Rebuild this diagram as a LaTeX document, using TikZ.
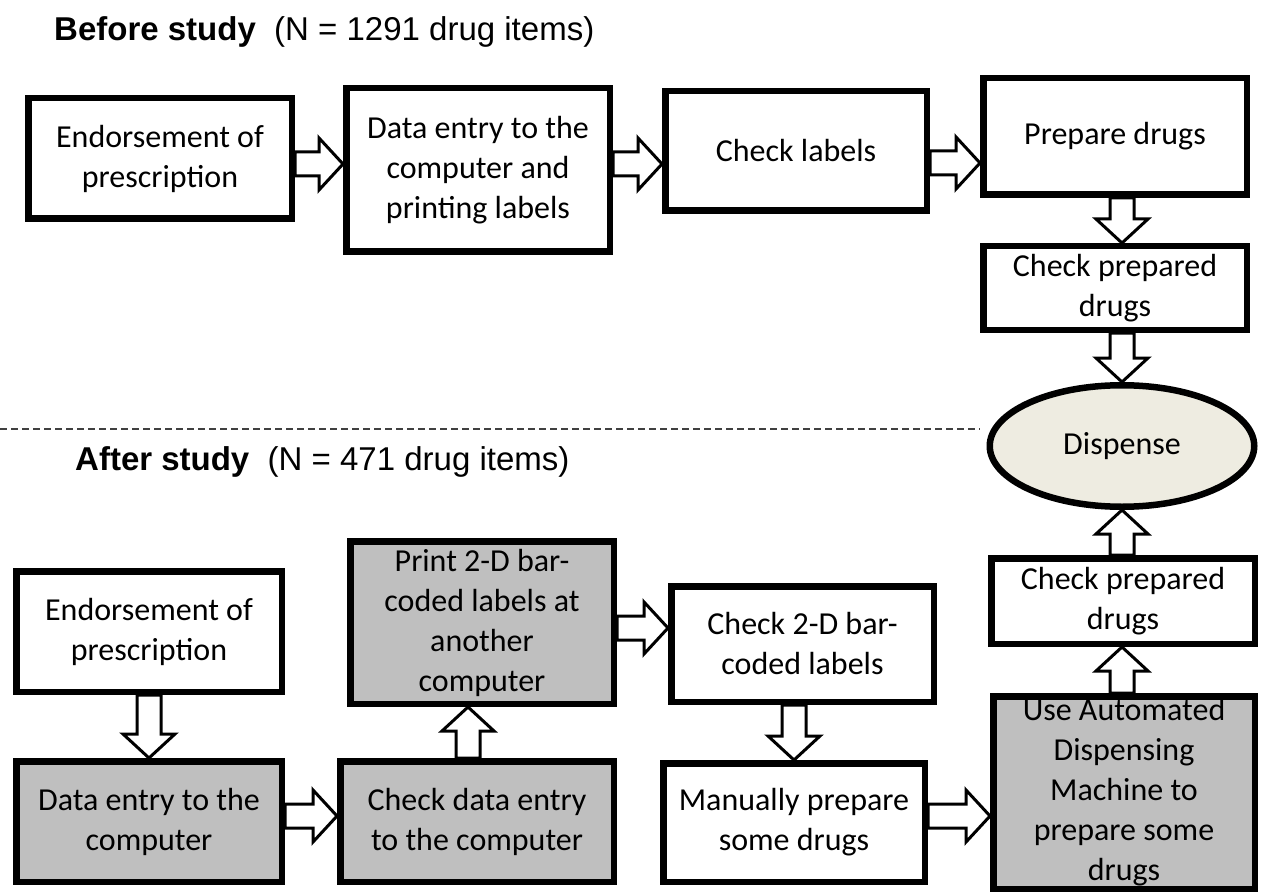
\documentclass[tikz,border=0pt]{standalone}
\usepackage{fontspec}
\setmainfont{Carlito}
\newfontfamily\titlefont{Liberation Sans}
\usepackage{xcolor}
\usepackage{tikz}
\usetikzlibrary{calc,shapes.geometric}

\definecolor{shade}{RGB}{191,191,191}
\definecolor{cream}{RGB}{238,236,225}

\tikzset{
  box/.style={draw,line width=6.5pt,fill=white,inner sep=0pt,align=center,
    font=\fontsize{32}{40}\selectfont},
  greybox/.style={box,fill=shade},
  title/.style={anchor=base west,inner sep=0pt,font=\titlefont\fontsize{33}{40}\selectfont},
  fat/.style={draw,line width=3pt,fill=white,
    to path={let \p1=(\tikztostart),\p2=(\tikztotarget),
      \n1={atan2(\y2-\y1,\x2-\x1)},
      \n2={veclen(\x2-\x1,\y2-\y1)-24} in
      ($(\p1)+(\n1+90:12pt)$) -- ++(\n1:\n2) -- ++(\n1+90:14pt)
      -- (\p2) -- ($(\p1)+(\n1:\n2)+(\n1-90:26pt)$) -- ++(\n1+90:14pt)
      -- ($(\p1)+(\n1-90:12pt)$) -- cycle}},
  divider/.style={line width=1.3pt,black!75,dash pattern=on 7pt off 4pt}
}

\begin{document}
\begin{tikzpicture}[x=1pt,y=-1pt]
\useasboundingbox (0,0) rectangle (1263,893);

\node (before) at (54,41) [title] {\textbf{Before study}\ \ (N = 1291 drug items)};
\node (1) at (160,158.5) [box,minimum width=263.5pt,minimum height=120.5pt] {Endorsement of\\prescription};
\node (2) at (478,170) [box,minimum width=263.5pt,minimum height=163.5pt] {Data entry to the\\computer and\\printing labels};
\node (3) at (796,151) [box,minimum width=261.5pt,minimum height=119.5pt] {Check labels};
\node (4) at (1115,136.5) [box,minimum width=263.5pt,minimum height=116.5pt] {Prepare drugs};
\node (5) at (1115,288) [box,minimum width=263.5pt,minimum height=83.5pt] {Check prepared\\drugs};
\node (6) at (1122,446) [box,ellipse,fill=cream,minimum width=264.5pt,minimum height=121.5pt] {Dispense};

\draw[divider] (0,429) -- (980,429);

\node (after) at (75,470) [title] {\textbf{After study}\ \ (N = 471 drug items)};
\node (7) at (149,631.5) [box,minimum width=265.5pt,minimum height=120.5pt] {Endorsement of\\prescription};
\node (8) at (149,821.5) [greybox,minimum width=265.5pt,minimum height=120.5pt] {Data entry to the\\computer};
\node (9) at (477,821.5) [greybox,minimum width=273.5pt,minimum height=120.5pt] {Check data entry\\to the computer};
\node (10) at (482,622.5) [greybox,minimum width=263.5pt,minimum height=162.5pt] {Print 2-D bar-\\coded labels at\\another\\computer};
\node (11) at (802.5,644) [box,minimum width=262.5pt,minimum height=115.5pt] {Check 2-D bar-\\coded labels};
\node (12) at (794,822.5) [box,minimum width=261.5pt,minimum height=118.5pt] {Manually prepare\\some drugs};
\node (13) at (1124,792.5) [greybox,minimum width=261.5pt,minimum height=192.5pt] {Use Automated\\Dispensing\\Machine to\\prepare some\\drugs};
\node (14) at (1123,601) [box,minimum width=263.5pt,minimum height=85.5pt] {Check prepared\\drugs};

\draw[fat] (1.east |- 0,164) to (2.west |- 0,164);
\draw[fat] (2.east |- 0,164) to (3.west |- 0,164);
\draw[fat] (3.east |- 0,163) to (4.west |- 0,163);
\draw[fat] (4.south -| 6.center) to (5.north -| 6.center);
\draw[fat] (5.south -| 6.center) to (6.north);
\draw[fat] (7.south) to (8.north);
\draw[fat] (8.east |- 0,816) to (9.west |- 0,816);
\draw[fat] (9.north -| 468,0) to (10.south -| 468,0);
\draw[fat] (10.east |- 0,628) to (11.west |- 0,628);
\draw[fat] (11.south -| 12.north) to (12.north);
\draw[fat] (12.east |- 0,816) to (13.west |- 0,816);
\draw[fat] (13.north -| 6.center) to (14.south -| 6.center);
\draw[fat] (14.north -| 6.center) to (6.south);
\end{tikzpicture}
\end{document}
